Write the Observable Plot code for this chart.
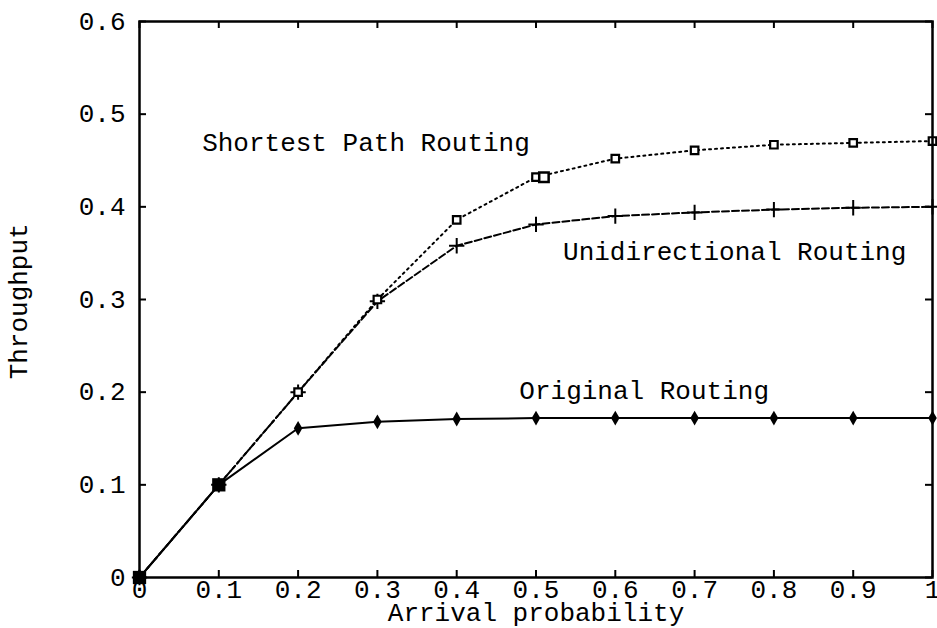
<!DOCTYPE html>
<html><head><meta charset="utf-8">
<script src="https://cdn.jsdelivr.net/npm/d3@7"></script>
<script src="https://cdn.jsdelivr.net/npm/@observablehq/plot@0.6"></script>
<style>body{margin:0;background:#fff} svg{display:block}</style>
</head><body><div id="chart"></div>
<script>
// ---- data ----
const arrival        = [0, 0.1, 0.2, 0.3, 0.4, 0.5, 0.6, 0.7, 0.8, 0.9, 1.0];
const original       = [0, 0.1, 0.161, 0.168, 0.171, 0.172, 0.172, 0.172, 0.172, 0.172, 0.172];
const unidirectional = [0, 0.1, 0.2, 0.298, 0.358, 0.381, 0.390, 0.394, 0.397, 0.399, 0.400];
const shortest       = [0, 0.1, 0.2, 0.3, 0.386, 0.432, 0.452, 0.461, 0.467, 0.469, 0.471];
const shortestExtraX = [0.51];
const shortestExtraY = [0.432];
const xTicks = [0, 0.1, 0.2, 0.3, 0.4, 0.5, 0.6, 0.7, 0.8, 0.9, 1];
const xTickLabels = ["0", "0.1", "0.2", "0.3", "0.4", "0.5", "0.6", "0.7", "0.8", "0.9", "1"];
const yTicks = [0, 0.1, 0.2, 0.3, 0.4, 0.5, 0.6];
const yTickLabels = ["0", "0.1", "0.2", "0.3", "0.4", "0.5", "0.6"];
const seriesNames = ["Shortest Path Routing", "Unidirectional Routing", "Original Routing"];
const xTitle = "Arrival probability";
const yTitle = "Throughput";

// ---- tables built from the arrays ----
const rows = (ys) => arrival.map((x, i) => ({x, y: ys[i]}));
const origRows = rows(original);
const uniRows = rows(unidirectional);
const shortRows = rows(shortest);
const extraRows = shortestExtraX.map((x, i) => ({x, y: shortestExtraY[i]}));
const coincident = arrival.map((x, i) => ({x, y: original[i], same: original[i] === shortest[i] && original[i] === unidirectional[i]})).filter(d => d.same);

const W = 937, H = 628, ML = 139, MR = 5, MT = 21, MB = 51;
const iw = W - ML - MR, ih = H - MT - MB;
const font = "'Liberation Mono', 'DejaVu Sans Mono', monospace";

const chart = Plot.plot({
  width: W, height: H,
  marginLeft: ML, marginRight: MR, marginTop: MT, marginBottom: MB,
  style: {fontFamily: font, fontSize: "26px", color: "#000", background: "#fff", overflow: "visible"},
  x: {domain: [0, 1]},
  y: {domain: [0, 0.6]},
  marks: [
    // inward ticks on all four sides
    Plot.tickX(xTicks, {x: d => d, insetTop: ih - 7, stroke: "#000", strokeWidth: 2}),
    Plot.tickX(xTicks, {x: d => d, insetBottom: ih - 7, stroke: "#000", strokeWidth: 2}),
    Plot.tickY(yTicks, {y: d => d, insetRight: iw - 7, stroke: "#000", strokeWidth: 2}),
    Plot.tickY(yTicks, {y: d => d, insetLeft: iw - 7, stroke: "#000", strokeWidth: 2}),
    Plot.axisX(xTicks, {tickSize: 0, tickPadding: 2, tickFormat: (d) => xTickLabels[xTicks.indexOf(d)], label: null, fontSize: 26}),
    Plot.axisY(yTicks, {tickSize: 0, tickPadding: 14, tickFormat: (d) => yTickLabels[yTicks.indexOf(d)], label: null, fontSize: 26}),
    // series lines
    Plot.line(shortRows, {x: "x", y: "y", stroke: "#000", strokeWidth: 2, strokeDasharray: "2,4"}),
    Plot.line(uniRows, {x: "x", y: "y", stroke: "#000", strokeWidth: 2, strokeDasharray: "7,3"}),
    Plot.line(origRows, {x: "x", y: "y", stroke: "#000", strokeWidth: 2}),
    // markers
    Plot.dot(origRows, {x: "x", y: "y", symbol: "diamond", r: 4.5, fill: "#000"}),
    Plot.dot(uniRows, {x: "x", y: "y", symbol: "plus", r: 5, stroke: "#000", strokeWidth: 2}),
    Plot.dot(shortRows, {x: "x", y: "y", symbol: "square2", r: 4.8, stroke: "#000", strokeWidth: 2.2, fill: "#fff"}),
    Plot.dot(extraRows, {x: "x", y: "y", symbol: "square2", r: 6, stroke: "#000", strokeWidth: 2.5, fill: "#fff"}),
    Plot.dot(coincident, {x: "x", y: "y", symbol: "square", r: 7.5, fill: "#000"}),
    // series labels
    Plot.text([seriesNames[0]], {x: [0.079], y: [0.469], text: d => d, textAnchor: "start", fontSize: 26}),
    Plot.text([seriesNames[1]], {x: [0.967], y: [0.352], text: d => d, textAnchor: "end", fontSize: 26}),
    Plot.text([seriesNames[2]], {x: [0.479], y: [0.202], text: d => d, textAnchor: "start", fontSize: 26}),
    // axis titles
    Plot.text([xTitle], {frameAnchor: "bottom", dy: 35, lineAnchor: "middle", textAnchor: "middle", text: d => d, fontSize: 26}),
    Plot.text([yTitle], {x: [-0.152], y: [0.298], rotate: -90, textAnchor: "middle", lineAnchor: "middle", text: d => d, fontSize: 26}),
    Plot.frame({stroke: "#000", strokeWidth: 2.5})
  ]
});
document.getElementById("chart").appendChild(chart);
</script>
</body></html>
